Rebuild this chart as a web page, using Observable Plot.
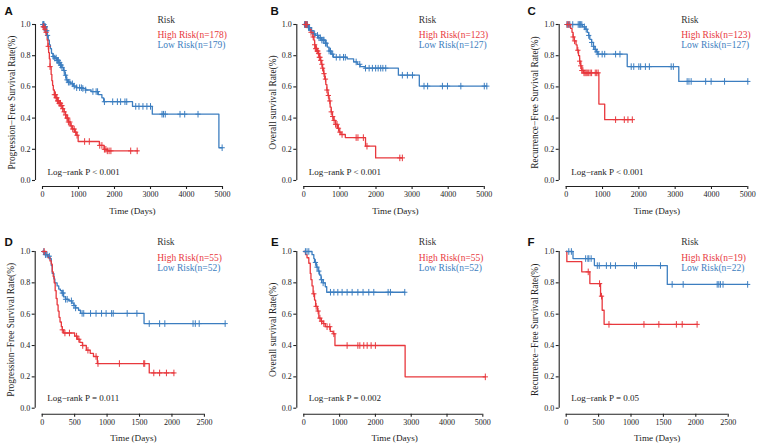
<!DOCTYPE html>
<html><head><meta charset="utf-8">
<script src="https://cdn.jsdelivr.net/npm/d3@7"></script>
<script src="https://cdn.jsdelivr.net/npm/@observablehq/plot@0.6"></script>
<style>
body{margin:0;background:#fff}
#wrap{position:relative;width:758px;height:445px;overflow:hidden;background:#fff}
.panel{position:absolute}
</style>
</head><body><div id="wrap"></div>
<script>
// ---------- data ----------
const panelLetters = ["A","B","C","D","E","F"];
const yLabels = [
  "Progression\u2212Free Survival Rate(%)",
  "Overall survival Rate(%)",
  "Recurrence\u2212Free Survival Rate(%)",
  "Progression\u2212Free Survival Rate(%)",
  "Overall survival Rate(%)",
  "Recurrence\u2212Free Survival Rate(%)"
];
const pTexts = ["Log\u2212rank P < 0.001","Log\u2212rank P < 0.001","Log\u2212rank P < 0.001","Log\u2212rank P = 0.011","Log\u2212rank P = 0.002","Log\u2212rank P = 0.05"];
const highN = [178,123,123,55,55,19];
const lowN  = [179,127,127,52,52,22];
const xTicksLong  = [0,1000,2000,3000,4000,5000];
const xTicksShort = [0,500,1000,1500,2000,2500];
const yTicks = [0,0.2,0.4,0.6,0.8,1.0];
const legendTitle = "Risk";
const xTitle = "Time (Days)";

// A
const aHighSteps = [[0,1],[20,0.985],[50,0.97],[80,0.95],[110,0.93],[130,0.90],[150,0.86],[170,0.82],[190,0.78],[210,0.73],[240,0.68],[260,0.64],[280,0.61],[300,0.58],[330,0.55],[370,0.53],[410,0.51],[460,0.495],[510,0.48],[560,0.46],[600,0.44],[640,0.42],[680,0.40],[720,0.375],[770,0.35],[830,0.33],[890,0.31],[950,0.29],[990,0.25],[1580,0.225],[1710,0.20],[1800,0.19],[2650,0.19]];
const aHighCensor = [20,40,70,100,160,210,330,360,380,400,420,440,460,480,500,520,540,560,600,640,680,700,720,760,800,840,880,920,960,1170,1300,1590,1650,1720,1760,1800,1850,1900,2450,2630];
const aLowSteps = [[0,1],[50,0.985],[100,0.96],[130,0.93],[160,0.90],[190,0.87],[220,0.845],[250,0.815],[290,0.795],[340,0.785],[400,0.77],[450,0.755],[500,0.74],[540,0.725],[580,0.705],[620,0.675],[660,0.645],[700,0.63],[780,0.62],[860,0.605],[950,0.595],[1100,0.59],[1200,0.58],[1350,0.57],[1550,0.55],[1650,0.53],[1700,0.505],[2500,0.475],[3050,0.425],[4900,0.21],[4990,0.21]];
const aLowCensor = [10,20,30,40,50,60,70,80,100,120,140,300,340,380,400,420,440,460,480,500,520,540,600,640,680,720,760,830,880,950,1030,1080,1120,1200,1400,1490,1530,1720,1950,2080,2170,2290,2340,2590,2680,2790,2900,3000,3320,3360,3410,3820,3950,4320,4990];
// B
const bHighSteps = [[0,1],[100,0.985],[150,0.97],[200,0.95],[250,0.92],[280,0.90],[300,0.87],[330,0.845],[370,0.83],[400,0.815],[430,0.79],[460,0.77],[490,0.745],[520,0.72],[550,0.685],[580,0.65],[610,0.615],[640,0.58],[670,0.545],[700,0.51],[730,0.47],[760,0.44],[790,0.41],[830,0.385],[880,0.36],[930,0.335],[980,0.31],[1030,0.295],[1150,0.275],[1710,0.22],[1990,0.145],[2730,0.145]];
const bHighCensor = [40,60,90,200,260,300,330,350,370,390,410,430,450,470,500,520,560,600,640,680,720,760,800,840,880,920,960,1000,1060,1450,1500,1650,1750,2660,2730];
const bLowSteps = [[0,1],[120,0.98],[200,0.96],[260,0.94],[320,0.93],[400,0.915],[500,0.90],[600,0.88],[650,0.855],[700,0.83],[760,0.81],[820,0.79],[1200,0.78],[1380,0.76],[1480,0.745],[1560,0.73],[1700,0.72],[2620,0.675],[3200,0.605],[5070,0.605]];
const bLowCensor = [20,40,60,80,100,130,160,220,300,380,420,460,500,540,560,600,620,700,740,800,900,1000,1100,1150,1450,1550,1710,1810,1900,1990,2060,2130,2190,2270,2730,2870,3010,3330,3430,3840,3980,4350,5000,5070];
// C
const cHighSteps = [[0,1],[120,0.975],[160,0.95],[190,0.92],[220,0.895],[270,0.87],[300,0.835],[340,0.80],[370,0.765],[400,0.735],[430,0.705],[480,0.69],[900,0.49],[1060,0.39],[1820,0.39]];
const cHighCensor = [30,80,190,230,320,370,400,430,460,490,520,550,580,620,660,700,800,840,880,1360,1600,1700,1820];
const cLowSteps = [[0,1],[450,0.985],[520,0.97],[580,0.95],[620,0.93],[650,0.905],[700,0.885],[750,0.86],[790,0.84],[830,0.825],[870,0.81],[1680,0.73],[3100,0.635],[5000,0.635]];
const cLowCensor = [20,60,100,180,330,360,380,400,430,500,550,620,700,750,800,850,880,990,1060,1360,1480,1790,1860,2000,2050,2180,2290,2890,2950,3330,3380,3440,3840,3990,4360,5000];
// D
const dHighSteps = [[0,1],[60,0.98],[90,0.96],[120,0.94],[140,0.92],[155,0.87],[170,0.84],[185,0.80],[200,0.75],[215,0.70],[230,0.66],[245,0.62],[260,0.58],[275,0.55],[295,0.52],[310,0.50],[330,0.48],[500,0.46],[540,0.44],[580,0.42],[620,0.40],[680,0.37],[740,0.35],[790,0.33],[850,0.285],[1650,0.225],[2030,0.225]];
const dHighCensor = [30,310,350,420,530,565,625,705,830,860,1190,1565,1580,1720,1810,1915,2030];
const dLowSteps = [[0,1],[30,0.98],[80,0.97],[120,0.955],[140,0.91],[155,0.86],[180,0.825],[195,0.80],[230,0.78],[255,0.76],[280,0.75],[305,0.735],[330,0.71],[360,0.695],[410,0.685],[460,0.67],[490,0.655],[515,0.64],[560,0.625],[590,0.605],[1570,0.54],[2820,0.54]];
const dLowCensor = [25,50,75,110,310,325,360,385,450,490,515,615,640,745,830,915,985,1070,1095,1310,1460,1650,1810,1890,2325,2360,2420,2820];
// E
const eHighSteps = [[0,1],[50,0.98],[90,0.96],[140,0.925],[180,0.86],[200,0.82],[230,0.78],[260,0.73],[300,0.69],[330,0.65],[380,0.62],[420,0.575],[480,0.555],[540,0.54],[600,0.52],[740,0.49],[820,0.475],[870,0.40],[2830,0.20],[5070,0.20]];
const eHighCensor = [280,345,400,450,495,560,650,725,840,1210,1510,1565,1675,1770,1880,2000,5070];
const eLowSteps = [[0,1],[230,0.98],[280,0.955],[300,0.93],[350,0.90],[400,0.875],[440,0.85],[480,0.82],[540,0.80],[600,0.775],[640,0.74],[2820,0.74]];
const eLowCensor = [45,90,140,325,370,420,495,540,745,840,950,1070,1210,1350,1510,1655,1815,1955,2355,2420,2820];
// F
const fHighSteps = [[0,1],[10,0.935],[240,0.87],[365,0.795],[530,0.715],[555,0.625],[585,0.535],[2020,0.535]];
const fHighCensor = [340,515,545,660,1200,1430,1700,1790,2020];
const fLowSteps = [[0,1],[105,0.955],[435,0.91],[1560,0.79],[2800,0.79]];
const fLowCensor = [40,80,300,335,350,385,480,510,620,685,760,1055,1085,1455,1635,1805,2330,2355,2380,2420,2800];

const highSteps = [aHighSteps,bHighSteps,cHighSteps,dHighSteps,eHighSteps,fHighSteps];
const highCensor = [aHighCensor,bHighCensor,cHighCensor,dHighCensor,eHighCensor,fHighCensor];
const lowSteps = [aLowSteps,bLowSteps,cLowSteps,dLowSteps,eLowSteps,fLowSteps];
const lowCensor = [aLowCensor,bLowCensor,cLowCensor,dLowCensor,eLowCensor,fLowCensor];
const xTickSets = [xTicksLong,xTicksLong,xTicksLong,xTicksShort,xTicksLong,xTicksShort];

// ---------- layout & style ----------
const RED = "#E8383D", BLUE = "#3C7EC0", INK = "#222";
const layout = [
  {ox:0,   oy:0,   w:250, ml:42,   mr:28,   mt:24, mb:40,   xmax:5000, lx:4},
  {ox:250, oy:0,   w:250, ml:53.3, mr:13.5, mt:24, mb:40,   xmax:5075, lx:20},
  {ox:500, oy:0,   w:258, ml:65.7, mr:10.7, mt:24, mb:40,   xmax:5000, lx:27},
  {ox:0,   oy:225, w:250, ml:41.7, mr:26,   mt:26, mb:37.3, xmax:2810, lx:4},
  {ox:250, oy:225, w:250, ml:53.3, mr:15,   mt:26, mb:37.3, xmax:5075, lx:20.5},
  {ox:500, oy:225, w:258, ml:65.7, mr:10.2, mt:26, mb:37.3, xmax:2810, lx:27}
];
const rowText = [
  {letter:-13, risk:-5, high:10.3, low:20.5, p:-8, xl:31},
  {letter:-9, risk:-10, high:6.3, low:16.7, p:-9.7, xl:29.6}
];

const censorSymbol = {draw(ctx, size){
  const r = Math.sqrt(size/Math.PI);
  ctx.moveTo(0,-r); ctx.lineTo(0,r);
  ctx.moveTo(-r*0.8,0); ctx.lineTo(r*0.8,0);
}};
function survAt(steps, t){
  let s = steps[0][1];
  for (const [tt, ss] of steps){ if (tt <= t) s = ss; else break; }
  return s;
}

const wrap = document.getElementById("wrap");
layout.forEach((L, i) => {
  const row = i < 3 ? rowText[0] : rowText[1];
  const ticks = xTickSets[i];
  const hs = highSteps[i], ls = lowSteps[i];
  const txt = (s, o) => Plot.text([s], {text: d => d, lineAnchor: "middle", ...o});
  const plot = Plot.plot({
    width: L.w, height: 220,
    marginLeft: L.ml, marginRight: L.mr, marginTop: L.mt, marginBottom: L.mb,
    x: {domain: [0, L.xmax]},
    y: {domain: [0, 1]},
    style: {fontFamily: "'Liberation Serif','Times New Roman',serif", fontSize: "8px", color: INK, background: "white", overflow: "visible"},
    marks: [
      Plot.ruleX([0], {y1: 0, y2: 1, dx: -7, stroke: INK, strokeWidth: 1.1}),
      Plot.ruleY([0], {x1: 0, x2: ticks[ticks.length-1], dy: 6, stroke: INK, strokeWidth: 1.1}),
      Plot.axisY(yTicks, {tickSize: 3, tickPadding: 2, dx: -7, tickFormat: d3.format(".1f"), label: null, strokeWidth: 1.1}),
      Plot.axisX(ticks, {tickSize: 3, tickPadding: 2, dy: 6, tickFormat: d => String(d), label: null, strokeWidth: 1.1}),
      Plot.line(ls, {x: d => d[0], y: d => d[1], curve: "step-after", stroke: BLUE, strokeWidth: 1.3}),
      Plot.line(hs, {x: d => d[0], y: d => d[1], curve: "step-after", stroke: RED, strokeWidth: 1.3}),
      Plot.dot(lowCensor[i], {x: d => d, y: d => survAt(ls, d), symbol: censorSymbol, r: 3.3, stroke: BLUE, fill: "none", strokeWidth: 1}),
      Plot.dot(highCensor[i], {x: d => d, y: d => survAt(hs, d), symbol: censorSymbol, r: 3.3, stroke: RED, fill: "none", strokeWidth: 1}),
      txt(legendTitle, {frameAnchor: "top-left", dx: 115, dy: row.risk, textAnchor: "start", fontSize: 9.5, fill: "#333"}),
      txt(`High Risk(n=${highN[i]})`, {frameAnchor: "top-left", dx: 115, dy: row.high, textAnchor: "start", fontSize: 9.5, fill: RED}),
      txt(`Low Risk(n=${lowN[i]})`, {frameAnchor: "top-left", dx: 115, dy: row.low, textAnchor: "start", fontSize: 9.5, fill: BLUE}),
      txt(pTexts[i], {frameAnchor: "bottom-left", dx: 5, dy: row.p, textAnchor: "start", fontSize: 9, fill: INK}),
      txt(xTitle, {frameAnchor: "bottom", dy: row.xl, textAnchor: "middle", fontSize: 9.2, fill: INK}),
      txt(yLabels[i], {frameAnchor: "left", dx: -31, rotate: -90, textAnchor: "middle", fontSize: 9.4, fill: INK}),
      txt(panelLetters[i], {frameAnchor: "top-left", dx: L.lx - L.ml, dy: row.letter, textAnchor: "start", fontSize: 11.5, fontWeight: "bold", fontFamily: "'Liberation Sans',Arial,sans-serif", fill: "#111"})
    ]
  });
  const div = document.createElement("div");
  div.className = "panel";
  div.style.left = L.ox + "px";
  div.style.top = L.oy + "px";
  div.appendChild(plot);
  wrap.appendChild(div);
});
</script>
</body></html>
